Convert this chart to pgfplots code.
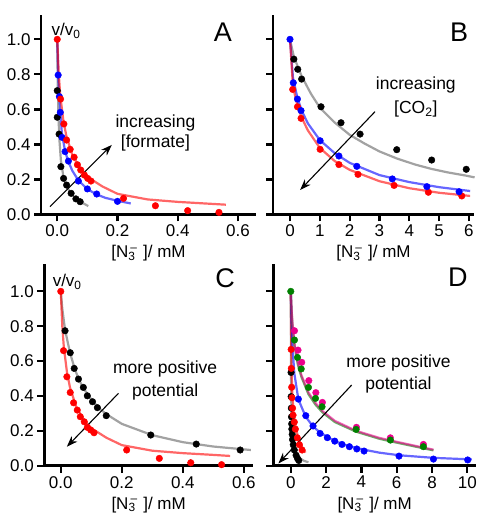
\documentclass[border=0pt]{standalone}
\usepackage{fontspec}
\setmainfont{Liberation Sans}
\usepackage{pgfplots}
\pgfplotsset{compat=1.18}
\usetikzlibrary{arrows.meta}

\definecolor{ptgreen}{RGB}{0,128,0}
\definecolor{curvegray}{RGB}{100,100,100}

\newcommand{\fs}{\fontsize{17}{20}\selectfont}
\newcommand{\xlab}{[N\rlap{\textsubscript{3}}\textsuperscript{\,–}\,\,]/ mM}

\pgfplotsset{
  panel/.style={
    scale only axis, clip=false,
    axis x line*=bottom, axis y line*=left,
    axis line style={line width=2.6pt, -},
    tick style={line width=2.2pt, black},
    major tick length=7pt, tick align=outside,
    ymin=0, ytick={0,0.2,0.4,0.6,0.8,1.0},
    tick label style={font=\fs},
    /pgf/number format/assume math mode=true,
    yticklabel style={/pgf/number format/.cd, fixed, fixed zerofill, precision=1},
    xlabel={\xlab},
    x label style={font=\fs, at={(axis description cs:0.5,0)}, anchor=center, yshift=-39pt},
  },
  pts/.style={only marks, mark=*, mark size=3.3pt, color=#1},
  fit/.style={no marks, line width=2.2pt, color=#1, opacity=0.6},
}
\tikzset{
  note/.style={font=\fontsize{17.5}{20}\selectfont},
  arr/.style={-{Stealth[length=11pt,width=8pt]}, line width=1.1pt},
}

\begin{document}
\begin{tikzpicture}
\useasboundingbox (0,0) rectangle (484pt,514pt);

% ---------------- A ----------------
\begin{axis}[panel, at={(41pt,299.5pt)}, anchor=south west,
  width=215pt, height=199.5pt,
  xmin=-0.054, xmax=0.66, ymax=1.139,
  xtick={0,0.2,0.4,0.6},
  xticklabel style={/pgf/number format/.cd, fixed, fixed zerofill, precision=1}]
\addplot[fit=curvegray] coordinates {(0,1) (0.001,0.85) (0.002,0.72) (0.004,0.56) (0.007,0.43) (0.012,0.31) (0.02,0.22) (0.03,0.165) (0.045,0.12) (0.06,0.093) (0.08,0.07) (0.103,0.048)};
\addplot[fit=blue] coordinates {(0,1) (0.003,0.8) (0.007,0.67) (0.01,0.59) (0.015,0.47) (0.025,0.37) (0.035,0.31) (0.05,0.25) (0.07,0.195) (0.1,0.145) (0.13,0.115) (0.16,0.095) (0.2,0.078) (0.244,0.063)};
\addplot[fit=red] coordinates {(0,1) (0.005,0.8) (0.01,0.68) (0.02,0.54) (0.03,0.45) (0.05,0.34) (0.075,0.265) (0.1,0.215) (0.15,0.16) (0.2,0.118) (0.3,0.086) (0.4,0.072) (0.5,0.062) (0.56,0.056)};
\addplot[pts=black] coordinates {(0,0.707) (0,0.555) (0.006,0.459) (0.012,0.273) (0.021,0.206) (0.031,0.168) (0.046,0.121) (0.062,0.089) (0.076,0.073)};
\addplot[pts=blue] coordinates {(0.003,0.796) (0.007,0.673) (0.01,0.583) (0.016,0.44) (0.026,0.359) (0.037,0.305) (0.07,0.191) (0.1,0.146) (0.131,0.117) (0.2,0.075)};
\addplot[pts=red] coordinates {(0,1.0) (0.011,0.659) (0.022,0.517) (0.031,0.425) (0.043,0.372) (0.056,0.327) (0.067,0.284) (0.078,0.254) (0.09,0.225) (0.101,0.206) (0.112,0.191) (0.22,0.092) (0.326,0.05) (0.433,0.022) (0.537,0.012)};
\draw[arr] (axis cs:-0.024,0.045) -- (axis cs:0.181,0.397);
\node[note] at (axis cs:0.326,0.52) {increasing};
\node[note] at (axis cs:0.326,0.406) {[formate]};
\node[font=\fs] at (axis cs:0.029,1.047) {v/v\textsubscript{0}};
\node[font=\fontsize{27}{30}\selectfont] at (axis cs:0.55,1.042) {A};
\end{axis}

% ---------------- B ----------------
\begin{axis}[panel, at={(273pt,299.5pt)}, anchor=south west,
  width=201pt, height=199.5pt,
  xmin=-0.57, xmax=6.17, ymax=1.139,
  xtick={0,1,2,3,4,5,6}, yticklabels={}]
\addplot[fit=curvegray] coordinates {(0,1) (0.13,0.9) (0.39,0.79) (0.7,0.69) (1,0.61) (1.5,0.525) (2,0.455) (2.5,0.405) (3,0.36) (3.58,0.32) (4.2,0.285) (4.75,0.26) (5.3,0.24) (5.9,0.222) (6.19,0.212)};
\addplot[fit=blue] coordinates {(0,1) (0.1,0.78) (0.25,0.665) (0.4,0.59) (0.6,0.52) (1,0.425) (1.5,0.35) (2,0.295) (3,0.225) (4,0.185) (5,0.156) (6.04,0.134)};
\addplot[fit=red] coordinates {(0,1) (0.1,0.73) (0.25,0.62) (0.4,0.55) (0.6,0.48) (1,0.38) (1.5,0.305) (2,0.255) (3,0.19) (4,0.15) (5,0.124) (6.04,0.106)};
\addplot[pts=black] coordinates {(0.13,0.887) (0.26,0.829) (0.39,0.773) (1.04,0.615) (1.71,0.524) (2.35,0.459) (3.58,0.37) (4.75,0.311) (5.91,0.258)};
\addplot[pts=red] coordinates {(0.09,0.714) (0.25,0.615) (0.37,0.549) (1.01,0.372) (1.64,0.285) (2.28,0.229) (3.49,0.166) (4.64,0.127) (5.76,0.106)};
\addplot[pts=blue] coordinates {(0,1.0) (0.11,0.752) (0.25,0.659) (0.37,0.593) (1.01,0.421) (1.64,0.334) (2.24,0.275) (3.43,0.203) (4.59,0.159) (5.67,0.13)};
\draw[arr] (axis cs:2.85,0.587) -- (axis cs:0.34,0.14);
\node[note] at (axis cs:4.22,0.739) {increasing};
\node[note] at (axis cs:4.22,0.6) {[CO\textsubscript{2}]};
\node[font=\fontsize{27}{30}\selectfont] at (axis cs:5.67,1.042) {B};
\end{axis}

% ---------------- C ----------------
\begin{axis}[panel, at={(44.3pt,48.3pt)}, anchor=south west,
  width=208.7pt, height=201.7pt,
  xmin=-0.054, xmax=0.63, ymax=1.157,
  xtick={0,0.2,0.4,0.6},
  xticklabel style={/pgf/number format/.cd, fixed, fixed zerofill, precision=1}]
\addplot[fit=curvegray] coordinates {(0,1) (0.005,0.9) (0.014,0.78) (0.03,0.65) (0.045,0.56) (0.06,0.49) (0.08,0.43) (0.1,0.38) (0.125,0.33) (0.15,0.295) (0.2,0.24) (0.3,0.175) (0.4,0.135) (0.5,0.11) (0.623,0.09)};
\addplot[fit=red] coordinates {(0,1) (0.005,0.8) (0.01,0.68) (0.02,0.54) (0.03,0.45) (0.05,0.34) (0.075,0.265) (0.1,0.215) (0.15,0.16) (0.2,0.118) (0.3,0.086) (0.4,0.072) (0.5,0.062) (0.555,0.056)};
\addplot[pts=black] coordinates {(0.014,0.774) (0.031,0.648) (0.044,0.558) (0.058,0.497) (0.074,0.449) (0.087,0.401) (0.104,0.367) (0.12,0.333) (0.149,0.287) (0.295,0.176) (0.444,0.124) (0.588,0.09)};
\addplot[pts=red] coordinates {(0,1.0) (0.009,0.66) (0.02,0.51) (0.031,0.42) (0.042,0.361) (0.054,0.319) (0.064,0.281) (0.077,0.252) (0.087,0.22) (0.098,0.205) (0.109,0.189) (0.216,0.09) (0.323,0.042) (0.426,0.017) (0.527,0.006)};
\draw[arr] (axis cs:0.189,0.415) -- (axis cs:0.02,0.109);
\node[note] at (axis cs:0.342,0.553) {more positive};
\node[note] at (axis cs:0.342,0.424) {potential};
\node[font=\fs] at (axis cs:0.021,1.053) {v/v\textsubscript{0}};
\node[font=\fontsize{27}{30}\selectfont] at (axis cs:0.539,1.076) {C};
\end{axis}

% ---------------- D ----------------
\begin{axis}[panel, at={(273.3pt,48.3pt)}, anchor=south west,
  width=202.7pt, height=201.7pt,
  xmin=-0.99, xmax=10.49, ymax=1.157,
  xtick={0,2,4,6,8,10}, yticklabels={}]
\addplot[fit=curvegray] coordinates {(0,1) (0.005,0.8) (0.01,0.62) (0.02,0.45) (0.04,0.3) (0.07,0.21) (0.1,0.17) (0.2,0.1) (0.35,0.06) (0.5,0.043) (0.75,0.028) (1.0,0.02)};
\addplot[fit=red] coordinates {(0,1) (0.01,0.85) (0.02,0.72) (0.04,0.57) (0.07,0.46) (0.1,0.39) (0.15,0.32) (0.2,0.275) (0.3,0.21) (0.45,0.15) (0.6,0.115) (0.83,0.075)};
\addplot[fit=blue] coordinates {(0,1) (0.05,0.8) (0.1,0.68) (0.2,0.53) (0.43,0.38) (0.85,0.28) (1.26,0.225) (1.66,0.19) (2.5,0.14) (3.3,0.112) (4.15,0.092) (5,0.075) (6.13,0.06) (8.08,0.045) (10.25,0.036)};
\addplot[fit=ptgreen] coordinates {(0,1) (0.05,0.88) (0.1,0.8) (0.21,0.69) (0.4,0.58) (0.6,0.51) (1.0,0.41) (1.4,0.35) (1.8,0.305) (2.5,0.25) (3.7,0.195) (5,0.155) (5.64,0.14) (7.5,0.1) (8.08,0.088)};
\addplot[fit=magenta] coordinates {(0,1) (0.05,0.89) (0.1,0.81) (0.21,0.7) (0.4,0.59) (0.6,0.52) (1.0,0.42) (1.4,0.36) (1.8,0.313) (2.5,0.257) (3.7,0.2) (5,0.16) (5.64,0.145) (7.5,0.104) (8.08,0.092)};
\addplot[pts=black] coordinates {(0.015,0.535) (0.02,0.396) (0.03,0.33) (0.04,0.28) (0.05,0.24) (0.06,0.21) (0.08,0.18) (0.1,0.15) (0.14,0.12) (0.2,0.09) (0.3,0.06) (0.38,0.042) (0.45,0.03)};
\addplot[pts=red] coordinates {(0.02,0.667) (0.03,0.558) (0.05,0.45) (0.07,0.39) (0.1,0.33) (0.13,0.29) (0.2,0.25) (0.26,0.21) (0.37,0.16) (0.49,0.12) (0.64,0.09)};
\addplot[pts=blue] coordinates {(0.43,0.382) (0.85,0.287) (1.26,0.228) (1.66,0.185) (2.07,0.161) (2.49,0.141) (2.9,0.122) (3.32,0.109) (3.74,0.096) (4.15,0.084) (6.13,0.055) (8.08,0.038) (10.02,0.033)};
\addplot[pts=magenta] coordinates {(0.21,0.774) (0.41,0.663) (0.62,0.593) (1.02,0.488) (1.42,0.419) (1.79,0.363) (3.72,0.22) (5.64,0.16) (7.51,0.122)};
\addplot[pts=ptgreen] coordinates {(0,1.0) (0.21,0.721) (0.38,0.621) (0.59,0.555) (1.0,0.449) (1.4,0.386) (1.77,0.338) (3.7,0.208) (5.64,0.147) (7.51,0.109)};
\draw[arr] (axis cs:3.45,0.463) -- (axis cs:-0.7,0.013);
\node[note] at (axis cs:6.1,0.587) {more positive};
\node[note] at (axis cs:6.1,0.463) {potential};
\node[font=\fontsize{27}{30}\selectfont] at (axis cs:9.47,1.082) {D};
\end{axis}
\end{tikzpicture}
\end{document}
